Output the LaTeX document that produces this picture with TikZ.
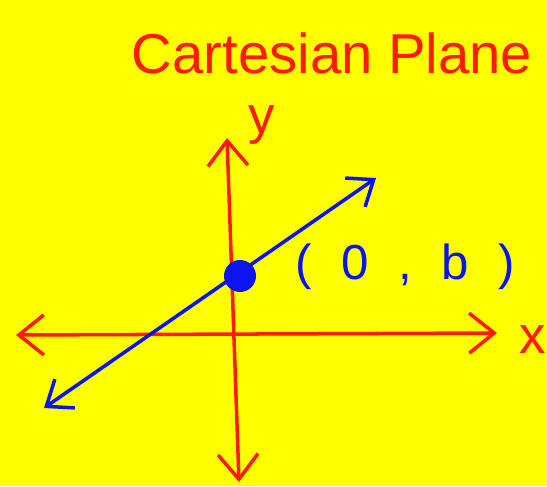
\documentclass[tikz,border=0pt]{standalone}
\usepackage{fontspec}
\setmainfont{Liberation Sans}
\usepackage{xcolor}
\usetikzlibrary{arrows.meta,positioning}
\definecolor{bgyellow}{HTML}{FFFF00}
\definecolor{penred}{HTML}{FF1A00}
\definecolor{penblue}{HTML}{0A14F0}
\tikzset{
  axis/.style  = {draw=penred, line width=2pt, line cap=round, line join=round,
                  {Straight Barb[length=5mm,width=8mm]}-{Straight Barb[length=5mm,width=8mm]}},
  graph/.style = {draw=penblue, line width=2pt, line cap=round, line join=round,
                  {Straight Barb[length=4.5mm,width=7mm]}-{Straight Barb[length=4.5mm,width=7mm]}},
  redtxt/.style  = {text=penred, inner sep=0pt},
  bluetxt/.style = {text=penblue, inner sep=0pt},
  dot/.style   = {circle, fill=penblue, minimum size=6.4mm, inner sep=0pt},
}

\begin{document}
\begin{tikzpicture}
  \fill[bgyellow] (0,0) rectangle (10.94,9.72);
  \useasboundingbox (0,0) rectangle (10.94,9.72);
  \node[redtxt, font=\fontsize{32}{36}\selectfont] (title) at (6.64,8.66) {Cartesian Plane};
  % axes
  \coordinate (ytop) at (4.54,6.96);
  \coordinate (ybot) at (4.78,0.08);
  \coordinate (xleft) at (0.32,3.02);
  \coordinate (xright) at (9.94,3.06);
  \draw[axis] (ybot) -- (ytop);
  \draw[axis] (xleft) -- (xright);
  \node[redtxt, font=\fontsize{30}{34}\selectfont] (ylbl) at (5.24,7.22) {y};
  \node[redtxt, font=\fontsize{30}{34}\selectfont] (xlbl) at (10.66,2.92) {x};
  % line through the y-intercept
  \coordinate (lo) at (0.88,1.56);
  \coordinate (hi) at (7.52,6.16);
  \draw[graph] (lo) -- (hi);
  \node[dot] (b) at (4.80,4.20) {};
  \node[bluetxt, font=\fontsize{28}{32}\selectfont] (blbl) at (8.10,4.38)
    {(\hspace{0.6em}0\hspace{0.6em},\hspace{0.6em}b\hspace{0.6em})};
\end{tikzpicture}
\end{document}
